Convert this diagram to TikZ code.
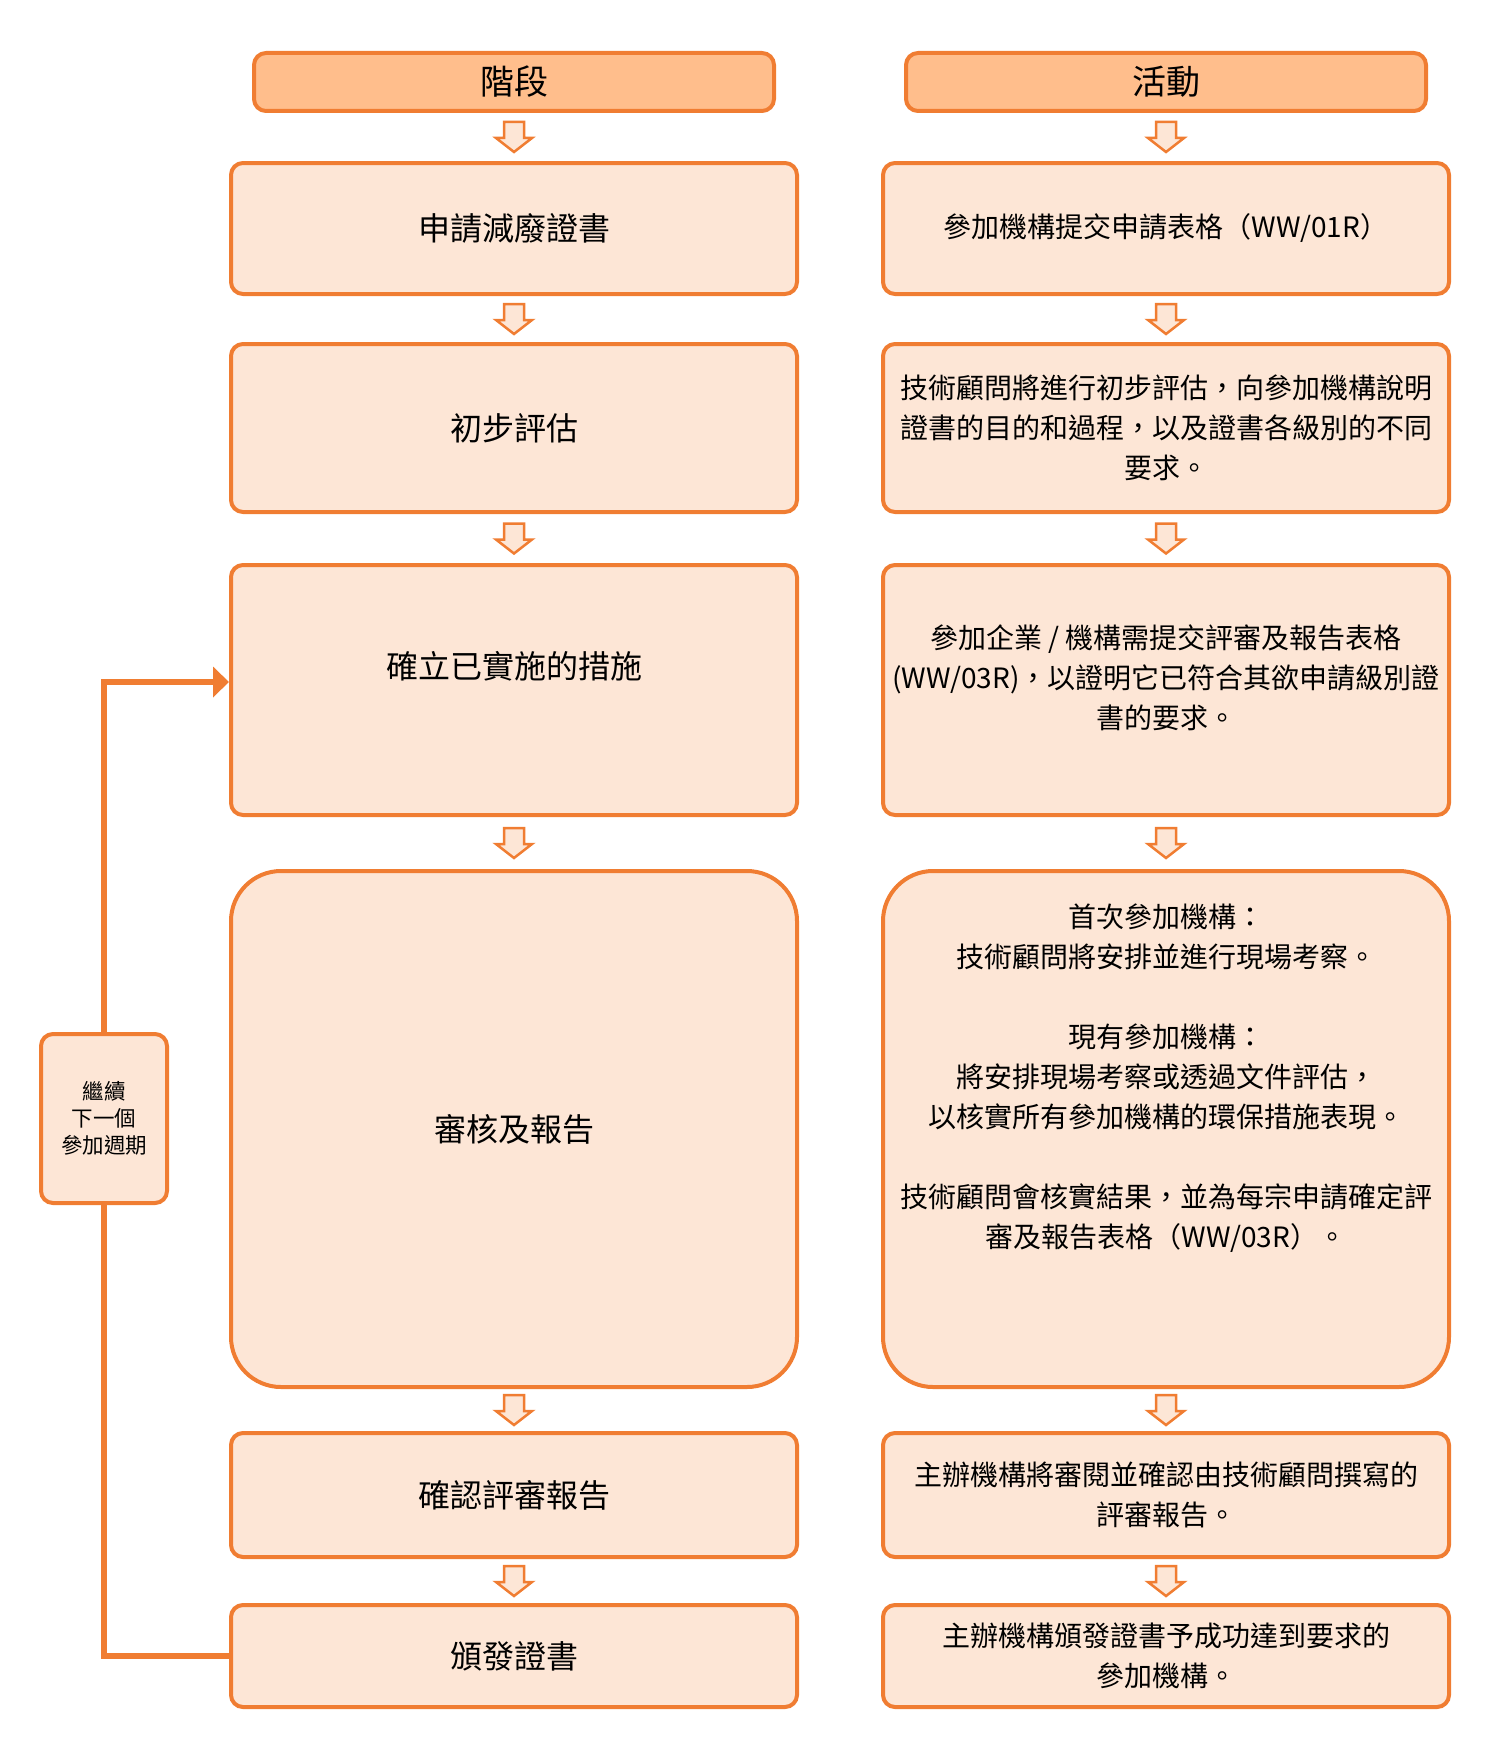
\documentclass[tikz,border=0pt]{standalone}
\usepackage{fontspec}
\setmainfont{Noto Sans CJK TC}
\usepackage{tikz}
\usetikzlibrary{arrows.meta,calc}
\definecolor{flowline}{RGB}{240,125,50}
\definecolor{flowfill}{RGB}{253,230,214}
\definecolor{headfill}{RGB}{255,190,140}
\tikzset{%
  stagebox/.style  = {shape=rectangle, rounded corners=12pt,%
                      draw=flowline, line width=4pt, fill=flowfill,%
                      minimum width=566pt, align=center,%
                      font=\fontsize{32}{40}\selectfont},%
  headbox/.style   = {stagebox, fill=headfill, minimum width=520pt,%
                      minimum height=58pt, font=\fontsize{34}{40}\selectfont},%
  actbox/.style    = {stagebox, font=\fontsize{28}{40}\selectfont},%
  bigbox/.style    = {stagebox, rounded corners=50pt},%
  loopbox/.style   = {stagebox, minimum width=126pt, minimum height=169pt,%
                      font=\fontsize{21.5}{27}\selectfont},%
  stagetext/.style = {align=center, font=\fontsize{32}{40}\selectfont},%
  acttext/.style   = {align=center, font=\fontsize{28}{40}\selectfont},%
  blockarrow/.style = {draw=flowline, line width=2.5pt, fill=flowfill},%
  loopline/.style  = {draw=flowline, line width=6pt}%
}
% hollow down arrow half way between two boxes
\newcommand{\flowarrow}[2]{%
  \draw[blockarrow] ($(#1.south)!0.5!(#2.north)$) ++(-10,-15) -- ++(0,16) -- ++(-8,0)
    -- ++(18,14) -- ++(18,-14) -- ++(-8,0) -- ++(0,-16) -- cycle;}

\begin{document}
\begin{tikzpicture}[x=1pt, y=-1pt]
  \useasboundingbox (0,0) rectangle (1500,1750);
  % headers
  \node[headbox] (hs) at (514,82) {階段};
  \node[headbox] (ha) at (1166,82) {活動};
  % stages
  \node[stagebox, minimum height=131pt] (s1) at (514,228.5) {申請減廢證書};
  \node[stagebox, minimum height=168pt] (s2) at (514,428) {初步評估};
  \node[stagebox, minimum height=250pt] (s3) at (514,690) {};
  \node[stagetext] (s3t) at ([yshift=24pt]s3.center) {確立已實施的措施};
  \node[bigbox, minimum height=516pt] (s4) at (514,1129) {審核及報告};
  \node[stagebox, minimum height=124pt] (s5) at (514,1495) {確認評審報告};
  \node[stagebox, minimum height=102pt] (s6) at (514,1656) {頒發證書};
  % activities
  \node[actbox, minimum height=131pt] (a1) at (1166,228.5) {參加機構提交申請表格（WW/01R）};
  \node[actbox, minimum height=168pt] (a2) at (1166,428)
    {技術顧問將進行初步評估，向參加機構說明\\證書的目的和過程，以及證書各級別的不同\\要求。};
  \node[actbox, minimum height=250pt] (a3) at (1166,690) {};
  \node[acttext] (a3t) at ([yshift=12pt]a3.center)
    {參加企業 / 機構需提交評審及報告表格\\(WW/03R)，以證明它已符合其欲申請級別證\\書的要求。};
  \node[bigbox, minimum height=516pt] (a4) at (1166,1129) {};
  \node[acttext] (a4t) at ([yshift=51pt]a4.center)
    {首次參加機構：\\技術顧問將安排並進行現場考察。\\[40pt]
     現有參加機構：\\將安排現場考察或透過文件評估，\\以核實所有參加機構的環保措施表現。\\[40pt]
     技術顧問會核實結果，並為每宗申請確定評\\審及報告表格（WW/03R）。};
  \node[actbox, minimum height=124pt] (a5) at (1166,1495)
    {主辦機構將審閱並確認由技術顧問撰寫的\\評審報告。};
  \node[actbox, minimum height=102pt] (a6) at (1166,1656)
    {主辦機構頒發證書予成功達到要求的\\參加機構。};
  % down arrows
  \flowarrow{hs}{s1} \flowarrow{s1}{s2} \flowarrow{s2}{s3}
  \flowarrow{s3}{s4} \flowarrow{s4}{s5} \flowarrow{s5}{s6}
  \flowarrow{ha}{a1} \flowarrow{a1}{a2} \flowarrow{a2}{a3}
  \flowarrow{a3}{a4} \flowarrow{a4}{a5} \flowarrow{a5}{a6}
  % next cycle loop
  \node[loopbox] (cycle) at (104,1118.5) {繼續\\下一個\\參加週期};
  \draw[loopline] (s6.west) -| (cycle.south);
  \draw[loopline, -{Triangle[length=16pt,width=30pt]}] (cycle.north) |- ([yshift=8pt]s3.west);
\end{tikzpicture}
\end{document}
